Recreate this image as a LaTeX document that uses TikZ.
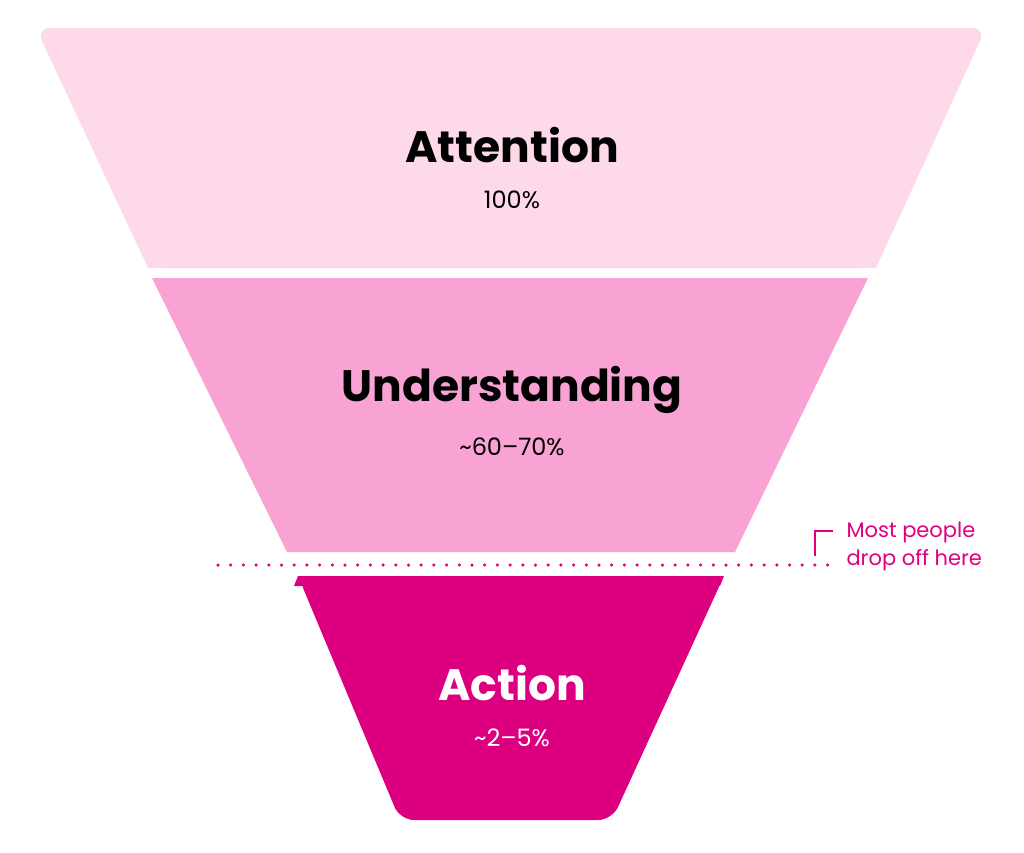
\documentclass[tikz,border=0pt]{standalone}
\usepackage{fontspec}
\setmainfont{Poppins}
\definecolor{topc}{HTML}{FDD9EA}
\definecolor{midc}{HTML}{F8A3D3}
\definecolor{actc}{HTML}{DC0080}
\definecolor{pinkt}{HTML}{E0007F}
\begin{document}
\begin{tikzpicture}[x=1pt,y=-1pt,
  title/.style={font=\fontsize{44}{50}\selectfont\bfseries},
  pct/.style={font=\fontsize{24}{28}\selectfont}]
\useasboundingbox (0,0) rectangle (1024,852);
\fill[white] (0,0) rectangle (1024,852);
\fill[topc,rounded corners=14pt] (36,28) -- (986,28) -- (876,268) -- (148,268) -- cycle;
\fill[topc] (148,268) -- (876,268) -- (880,259) -- (144,259) -- cycle;
\fill[midc] (152,278) -- (868,278) -- (735,552) -- (287,552) -- cycle;
\fill[actc,rounded corners=14pt] (298,576) -- (724,576) -- (612,820) -- (400,820) -- cycle;
\fill[actc] (298,576) -- (724,576) -- (720,586) -- (294,586) -- cycle;
\node[title] (att) at (512,145) {Attention};
\node[pct] (attp) at (512,200) {100\%};
\node[title] (und) at (512,390) {Understanding};
\node[pct] (undp) at (512,447) {\char"7E 60–70\%};
\node[title,white] (act) at (512,683) {Action};
\node[pct,white] (actp) at (512,738) {\char"7E 2–5\%};
\coordinate (dl) at (218,565);
\coordinate (dr) at (830,565);
\draw[pinkt,line width=3.5pt,line cap=round,dash pattern=on 0pt off 12.7pt] (dl) -- (dr);
\coordinate (b1) at (815,556);
\coordinate (b2) at (815,531);
\coordinate (b3) at (833,531);
\draw[pinkt,line width=2pt] (b1) -- (b2) -- (b3);
\node[pinkt,anchor=north west,align=left,font=\fontsize{21}{28}\selectfont\mdseries] (note) at (843,518) {Most people\\drop off here};
\end{tikzpicture}
\end{document}
